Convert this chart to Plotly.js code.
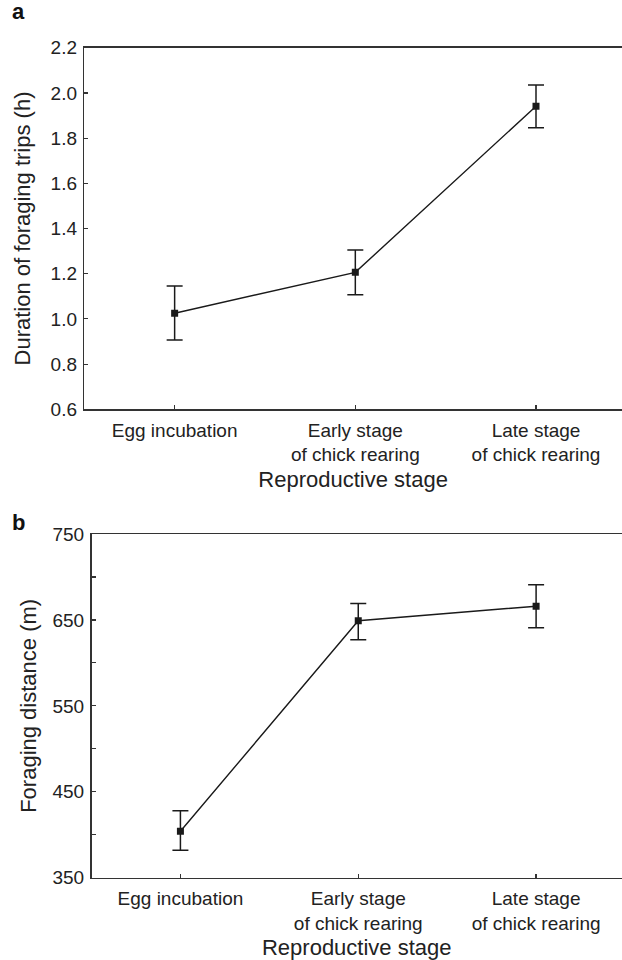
<!DOCTYPE html>
<html>
<head>
<meta charset="utf-8">
<script src="https://cdn.plot.ly/plotly-3.0.1.min.js"></script>
<style>html,body{margin:0;padding:0;background:#fff;overflow:hidden;}#chart{width:622px;height:960px;}</style>
</head>
<body>
<div id="chart"></div>
<script>
const stages = ["Egg incubation", "Early stage<br>of chick rearing", "Late stage<br>of chick rearing"];
const stagePos = [0, 1, 2];

const durationMean = [1.025, 1.206, 1.941];
const durationUpper = [1.146, 1.305, 2.035];
const durationLower = [0.907, 1.107, 1.846];

const distanceMean = [404, 649, 666];
const distanceUpper = [428, 669, 691];
const distanceLower = [382, 627, 641];

const durationTicks = [0.6, 0.8, 1.0, 1.2, 1.4, 1.6, 1.8, 2.0, 2.2];
const distanceTicks = [350, 450, 550, 650, 750];

const ink = "#1a1a1a";
const axisInk = "#333333";
const font = "Liberation Sans, Arial, sans-serif";

function trace(mean, up, lo, xa, ya) {
  return {
    type: "scatter", mode: "lines+markers",
    x: stagePos, y: mean, xaxis: xa, yaxis: ya,
    line: {color: ink, width: 1.4},
    marker: {symbol: "square", size: 7, color: ink},
    error_y: {type: "data", symmetric: false,
      array: up.map((u, i) => u - mean[i]),
      arrayminus: mean.map((m, i) => m - lo[i]),
      color: ink, thickness: 1.5, width: 8},
    showlegend: false, hoverinfo: "skip"
  };
}

const xCommon = {
  tickmode: "array", tickvals: stagePos, ticktext: stages,
  ticks: "inside", ticklen: 4, tickwidth: 1.2, tickcolor: axisInk,
  showline: true, linecolor: axisInk, linewidth: 1.5, mirror: true,
  showgrid: false, zeroline: false, automargin: false, ticklabelstandoff: 3,
  tickfont: {family: font, size: 19, color: "#222"}
};
const yCommon = {
  ticks: "inside", ticklen: 4, tickwidth: 1.2, tickcolor: axisInk,
  showline: true, linecolor: axisInk, linewidth: 1.5,
  showgrid: false, zeroline: false, automargin: false, ticklabelstandoff: 2,
  tickfont: {family: font, size: 19, color: "#222"}
};

const layout = {
  width: 622, height: 960,
  margin: {l: 0, r: 0, t: 0, b: 0},
  paper_bgcolor: "#fff", plot_bgcolor: "#fff",
  xaxis: Object.assign({}, xCommon, {domain: [84.3/622, 1], range: [-0.5, 2.476], anchor: "y",
    title: {text: "Reproductive stage", font: {family: font, size: 22, color: "#222"}}}),
  yaxis: Object.assign({}, yCommon, {domain: [(960-409.3)/960, (960-47.7)/960], range: [0.6, 2.2],
    tickmode: "array", tickvals: durationTicks, ticktext: durationTicks.map(v => v.toFixed(1)), anchor: "x",
    title: {text: "Duration of foraging trips (h)", standoff: 14, font: {family: font, size: 22, color: "#222"}}}),
  xaxis2: Object.assign({}, xCommon, {domain: [91.5/622, 1], range: [-0.5, 2.483], anchor: "y2",
    title: {text: "Reproductive stage", standoff: 14, font: {family: font, size: 22, color: "#222"}}}),
  yaxis2: Object.assign({}, yCommon, {domain: [(960-877.7)/960, (960-534)/960], range: [350, 750],
    tickmode: "array", tickvals: distanceTicks, anchor: "x2",
    minor: {tickmode: "linear", tick0: 350, dtick: 50, ticks: "inside", ticklen: 4, tickwidth: 1.2, tickcolor: axisInk},
    title: {text: "Foraging distance (m)", standoff: 10, font: {family: font, size: 22, color: "#222"}}}),
  annotations: [
    {text: "<b>a</b>", xref: "paper", yref: "paper", x: 10/622, y: (960-26)/960, xanchor: "left", yanchor: "bottom",
     showarrow: false, font: {family: font, size: 22, color: "#111"}},
    {text: "<b>b</b>", xref: "paper", yref: "paper", x: 10/622, y: (960-537)/960, xanchor: "left", yanchor: "bottom",
     showarrow: false, font: {family: font, size: 22, color: "#111"}}
  ]
};

Plotly.newPlot("chart", [
  trace(durationMean, durationUpper, durationLower, "x", "y"),
  trace(distanceMean, distanceUpper, distanceLower, "x2", "y2")
], layout, {displayModeBar: false, staticPlot: true});
</script>
</body>
</html>
